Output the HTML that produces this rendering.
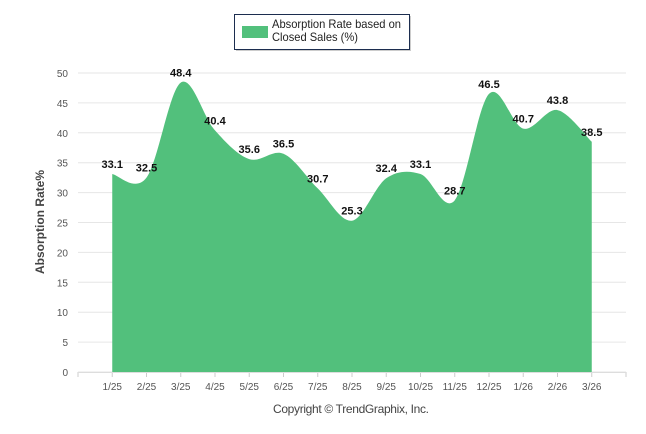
<!DOCTYPE html>
<html><head><meta charset="utf-8"><style>
body{margin:0;background:#fff;font-family:"Liberation Sans",sans-serif;}
svg{display:block}
</style></head><body>
<svg width="646" height="434" viewBox="0 0 646 434" id="chart">
<g id="grid"></g>
<g id="area"></g>
<g id="axes"></g>
<g id="labels"></g>
<text x="44" y="222" transform="rotate(-90 44 222)" text-anchor="middle" font-size="12" font-weight="bold" fill="#444">Absorption Rate%</text>
<text x="351" y="413" text-anchor="middle" font-size="12" fill="#444" textLength="156">Copyright © TrendGraphix, Inc.</text>
<g>
<rect x="236" y="16" width="175" height="35" fill="#999" opacity="0.5"/>
<rect x="234.5" y="14.5" width="175" height="35" fill="#fff" stroke="#1c2d4f"/>
<rect x="242" y="26" width="26" height="12" fill="#52c07c"/>
<text x="272" y="28" font-size="12" fill="#222" textLength="129" lengthAdjust="spacingAndGlyphs">Absorption Rate based on</text>
<text x="272" y="41" font-size="12" fill="#222" textLength="86" lengthAdjust="spacingAndGlyphs">Closed Sales (%)</text>
</g>
</svg>
<script>
const categories=["1/25","2/25","3/25","4/25","5/25","6/25","7/25","8/25","9/25","10/25","11/25","12/25","1/26","2/26","3/26"];
const values=[33.1,32.5,48.4,40.4,35.6,36.5,30.7,25.3,32.4,33.1,28.7,46.5,40.7,43.8,38.5];
const yTicks=[0,5,10,15,20,25,30,35,40,45,50];
const NS="http://www.w3.org/2000/svg";
const x0=78,x1=626,y0=372,y1=73,ymax=50;
const step=(x1-x0)/(categories.length+1);
const X=i=>x0+step*(i+1);
const Y=v=>y0-(v/ymax)*(y0-y1);
function mk(t,a,p){const e=document.createElementNS(NS,t);for(const k in a)e.setAttribute(k,a[k]);p.appendChild(e);return e;}
const grid=document.getElementById('grid'),axes=document.getElementById('axes'),area=document.getElementById('area'),labels=document.getElementById('labels');
yTicks.forEach(t=>{
 const l=mk('line',{x1:x0,x2:x1,y1:Y(t),y2:Y(t),stroke:'#e6e6e6','stroke-width':1},grid);
 
 
 const tx=mk('text',{x:x0-10,y:Y(t)+4,'text-anchor':'end','font-size':10,fill:'#555'},axes);
 tx.textContent=t;
 
 
});
for(let i=-1;i<categories.length;i++){
 const l=mk('line',{x1:X(i),x2:X(i),y1:y0,y2:y0+5,stroke:'#ccc'},axes);
 
 
}
mk('line',{x1:x1,x2:x1,y1:y0,y2:y0+5,stroke:'#ccc'},axes);
categories.forEach((c,i)=>{
 const tx=mk('text',{x:X(i),y:y0+18,'text-anchor':'middle','font-size':10,fill:'#555'},axes);
 tx.textContent=c;
 
 
});
const pts=values.map((v,i)=>[X(i),Y(v)]);
let d=`M${pts[0][0]},${y0}L${pts[0][0]},${pts[0][1]}`;
for(let i=0;i<pts.length-1;i++){
 const p0=pts[Math.max(0,i-1)],p1=pts[i],p2=pts[i+1],p3=pts[Math.min(pts.length-1,i+2)];
 const c1=[p1[0]+(p2[0]-p0[0])/6,p1[1]+(p2[1]-p0[1])/6];
 const c2=[p2[0]-(p3[0]-p1[0])/6,p2[1]-(p3[1]-p1[1])/6];
 d+=`C${c1[0]},${c1[1]} ${c2[0]},${c2[1]} ${p2[0]},${p2[1]}`;
}
d+=`L${pts[pts.length-1][0]},${y0}Z`;
const path=mk('path',{d:d,fill:'#52c07c'},area);


mk('line',{x1:x0,x2:x1,y1:y0+0.5,y2:y0+0.5,stroke:'#ddd'},axes);
values.forEach((v,i)=>{
 const tx=mk('text',{x:X(i),y:Y(v)-6,'text-anchor':'middle','font-size':11,'font-weight':'bold',fill:'#111'},labels);
 tx.textContent=v.toFixed(1);
 
 
});
</script>
</body></html>
